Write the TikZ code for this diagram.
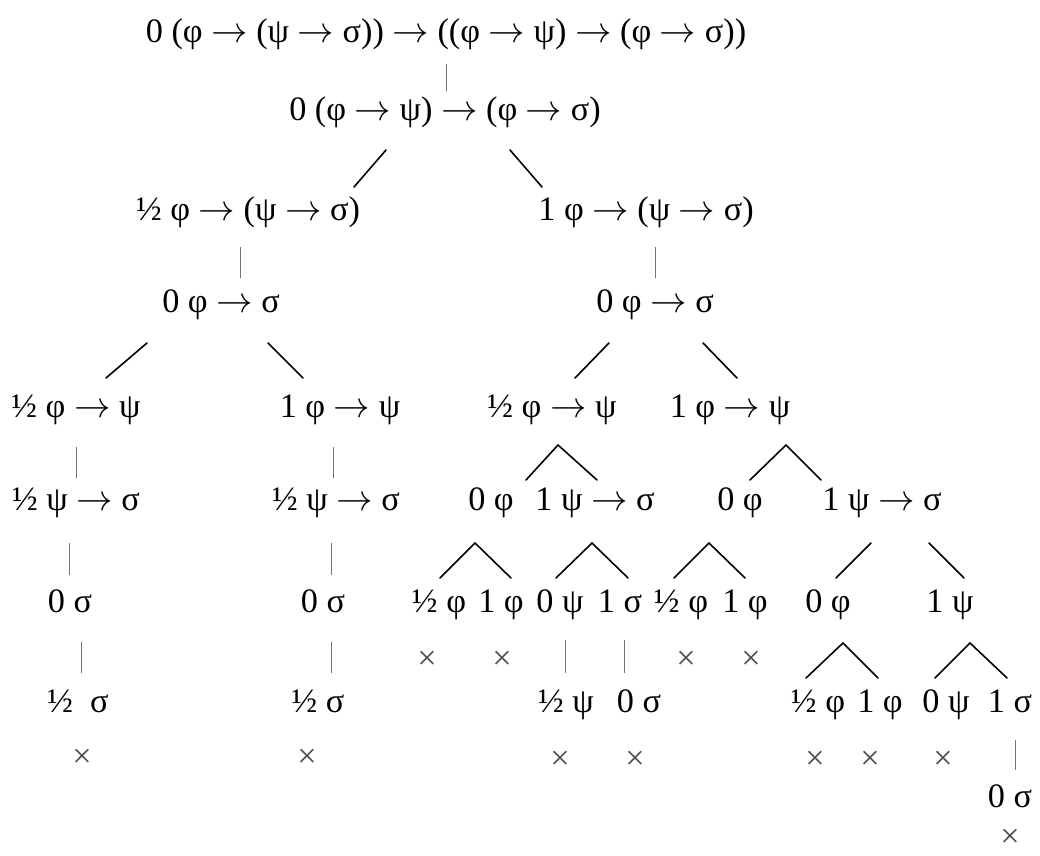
\documentclass[tikz,border=0pt]{standalone}
\usepackage{fontspec}
\setmainfont{Liberation Serif}
\usetikzlibrary{calc}
\newcommand\impl{\ensuremath{\rightarrow}}
\tikzset{
  lbl/.style={inner sep=0pt, text height=0.95em, text depth=0.15em},
  br/.style={line width=0.9pt, line cap=round, line join=miter},
  tk/.style={black!55, line width=0.5pt},
  cross/.style={inner sep=0pt, text=black!70}
}
\begin{document}
\begin{tikzpicture}[x=0.02cm, y=-0.02cm, font=\fontsize{19.5}{23}\selectfont]
 \useasboundingbox (0,0) rectangle (1040,855);
 % formulas
 \node[lbl] (r1) at (446,35) {0 (φ \impl{} (ψ \impl{} σ)) \impl{} ((φ \impl{} ψ) \impl{} (φ \impl{} σ))};
 \node[lbl] (r2) at (445,113) {0 (φ \impl{} ψ) \impl{} (φ \impl{} σ)};
 \node[lbl] (r3a) at (248,213) {½ φ \impl{} (ψ \impl{} σ)};
 \node[lbl] (r3b) at (646,213) {1 φ \impl{} (ψ \impl{} σ)};
 \node[lbl] (r4a) at (221,305) {0 φ \impl{} σ};
 \node[lbl] (r4b) at (655,305) {0 φ \impl{} σ};
 \node[lbl] (r5a) at (76,410) {½ φ \impl{} ψ};
 \node[lbl] (r5b) at (340,410) {1 φ \impl{} ψ};
 \node[lbl] (r5c) at (552,410) {½ φ \impl{} ψ};
 \node[lbl] (r5d) at (730,410) {1 φ \impl{} ψ};
 \node[lbl] (r6a) at (76,503) {½ ψ \impl{} σ};
 \node[lbl] (r6b) at (336,503) {½ ψ \impl{} σ};
 \node[lbl] (r6c) at (491,503) {0 φ};
 \node[lbl] (r6d) at (595,503) {1 ψ \impl{} σ};
 \node[lbl] (r6e) at (740,503) {0 φ};
 \node[lbl] (r6f) at (882,503) {1 ψ \impl{} σ};
 \node[lbl] (r7a) at (70,605) {0 σ};
 \node[lbl] (r7b) at (323,605) {0 σ};
 \node[lbl] (r7c) at (439,605) {½ φ};
 \node[lbl] (r7d) at (501,605) {1 φ};
 \node[lbl] (r7e) at (560,605) {0 ψ};
 \node[lbl] (r7f) at (620,605) {1 σ};
 \node[lbl] (r7g) at (681,605) {½ φ};
 \node[lbl] (r7h) at (745,605) {1 φ};
 \node[lbl] (r7i) at (828,605) {0 φ};
 \node[lbl] (r7j) at (950,605) {1 ψ};
 \node[lbl] (r8a) at (78,705) {½~~σ};
 \node[lbl] (r8b) at (318,705) {½ σ};
 \node[lbl] (r8e) at (566,705) {½ ψ};
 \node[lbl] (r8f) at (639,705) {0 σ};
 \node[lbl] (r8i) at (818,705) {½ φ};
 \node[lbl] (r8j) at (880,705) {1 φ};
 \node[lbl] (r8k) at (946,705) {0 ψ};
 \node[lbl] (r8l) at (1010,705) {1 σ};
 \node[lbl] (r10) at (1010,800) {0 σ};
 % closed branches
 \node[cross] (xc) at (427,660) {×};
 \node[cross] (xd) at (502,660) {×};
 \node[cross] (xg) at (686,660) {×};
 \node[cross] (xh) at (751,660) {×};
 \node[cross] (xa) at (82,758) {×};
 \node[cross] (xb) at (307,758) {×};
 \node[cross] (xe) at (560,760) {×};
 \node[cross] (xf) at (635,760) {×};
 \node[cross] (xi) at (815,760) {×};
 \node[cross] (xj) at (870,760) {×};
 \node[cross] (xk) at (943,760) {×};
 \node[cross] (xl) at (1010,838) {×};
 % single steps
 \draw[tk] ($(r1)+(0,29)$) -- ($(r2)+(1,-22)$);
 \draw[tk] ($(r3a)+(-8,34)$) -- ($(r4a)+(19,-27)$);
 \draw[tk] ($(r3b)+(9,34)$) -- ($(r4b)+(0,-27)$);
 \draw[tk] ($(r5a)+(0,37)$) -- ($(r6a)+(0,-25)$);
 \draw[tk] ($(r5b)+(-7,37)$) -- ($(r6b)+(-3,-25)$);
 \draw[tk] ($(r6a)+(-7,40)$) -- ($(r7a)+(-1,-30)$);
 \draw[tk] ($(r6b)+(-5,40)$) -- ($(r7b)+(8,-30)$);
 \draw[tk] ($(r7a)+(11,37)$) -- ($(r8a)+(3,-32)$);
 \draw[tk] ($(r7b)+(8,37)$) -- ($(r8b)+(13,-32)$);
 \draw[tk] ($(r7e)+(5,35)$) -- ($(r8e)+(-1,-32)$);
 \draw[tk] ($(r7f)+(4,35)$) -- ($(r8f)+(-15,-32)$);
 \draw[tk] ($(r8l)+(5,35)$) -- ($(r10)+(5,-30)$);
 % branchings
 \draw[br] ($(r2)+(-59,37)$) -- ($(r3a)+(106,-26)$);
 \draw[br] ($(r2)+(65,37)$) -- ($(r3b)+(-104,-26)$);
 \draw[br] ($(r4a)+(-74,38)$) -- ($(r5a)+(30,-32)$);
 \draw[br] ($(r4a)+(47,38)$) -- ($(r5b)+(-37,-32)$);
 \draw[br] ($(r4b)+(-46,38)$) -- ($(r5c)+(23,-32)$);
 \draw[br] ($(r4b)+(48,38)$) -- ($(r5d)+(7,-32)$);
 \draw[br] ($(r6c)+(35,-23)$) -- ($(r5c)+(6,35)$) -- ($(r6d)+(2,-23)$);
 \draw[br] ($(r6e)+(10,-23)$) -- ($(r5d)+(56,35)$) -- ($(r6f)+(-61,-23)$);
 \draw[br] ($(r7c)+(1,-27)$) -- ($(r6c)+(-16,40)$) -- ($(r7d)+(10,-27)$);
 \draw[br] ($(r7e)+(-4,-27)$) -- ($(r6d)+(-3,40)$) -- ($(r7f)+(8,-27)$);
 \draw[br] ($(r7g)+(-7,-27)$) -- ($(r6e)+(-31,40)$) -- ($(r7h)+(0,-27)$);
 \draw[br] ($(r6f)+(-11,40)$) -- ($(r7i)+(8,-27)$);
 \draw[br] ($(r6f)+(47,40)$) -- ($(r7j)+(14,-27)$);
 \draw[br] ($(r8i)+(-12,-27)$) -- ($(r7i)+(15,38)$) -- ($(r8j)+(-2,-27)$);
 \draw[br] ($(r8k)+(-11,-27)$) -- ($(r7j)+(20,38)$) -- ($(r8l)+(-3,-27)$);
\end{tikzpicture}
\end{document}
